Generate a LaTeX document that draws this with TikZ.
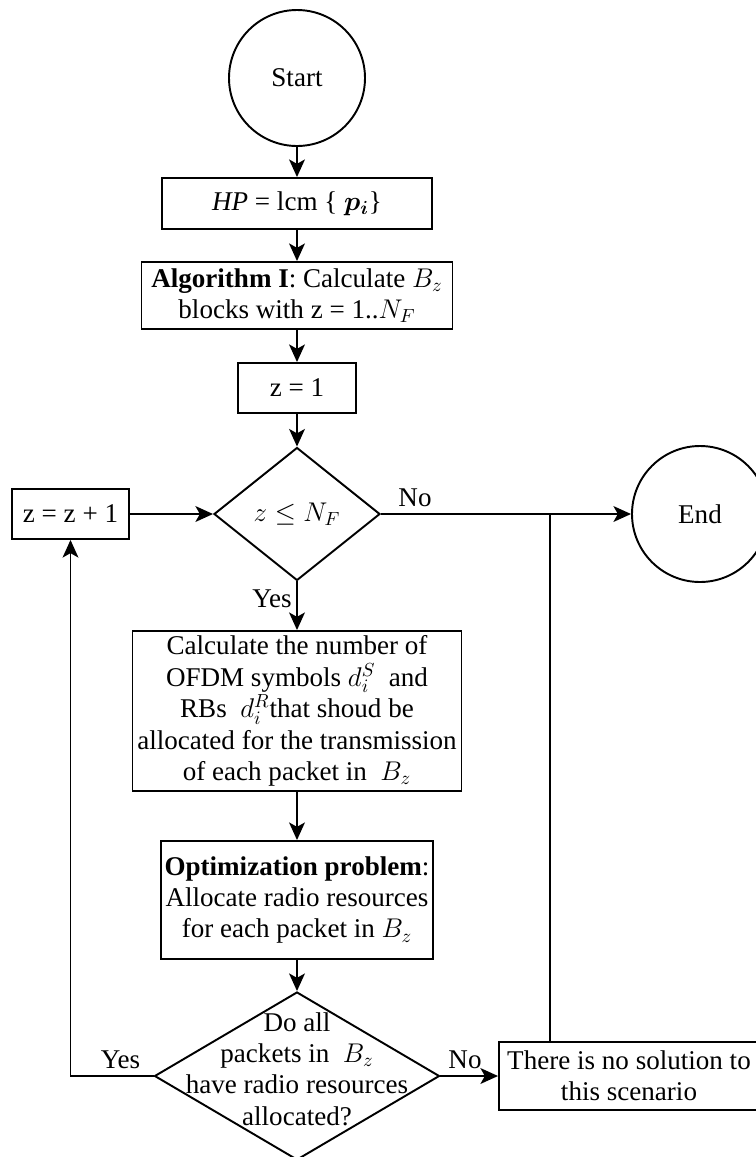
\RequirePackage{fix-cm}
\documentclass[tikz,border=0pt]{standalone}
\usepackage{bm}
\usepackage{fontspec}
\setmainfont{Liberation Serif}
\usetikzlibrary{shapes.geometric,arrows.meta}

\begin{document}
\begin{tikzpicture}[
            every node/.style={font=\fontsize{15.4}{17.9}\selectfont},
            box/.style={draw,line width=1.1pt,rectangle,align=center,inner sep=2pt},
            terminal/.style={draw,line width=1.1pt,circle,minimum size=2.72cm,inner sep=0pt},
            decision/.style={draw,line width=1.1pt,diamond,inner sep=0pt},
            arr/.style={line width=1.1pt,-{Stealth[length=10pt,width=9pt,inset=2.5pt]}},
            link/.style={line width=1.1pt}]
            \useasboundingbox (0,0) rectangle (15.12,-23.14);
            \node[terminal] (start) at (5.94,-1.56) {Start};
            \node[box,minimum width=5.4cm,minimum height=1.02cm] (hp) at (5.94,-4.07) {\textit{HP} = lcm \{ $\bm{p_i}$\}};
            \node[box,minimum width=6.22cm,minimum height=1.34cm] (alg) at (5.94,-5.91) {\textbf{Algorithm I}: Calculate $B_z$\\ blocks with z = 1..$N_F$};
            \node[box,minimum width=2.36cm,minimum height=1cm] (zinit) at (5.94,-7.76) {z = 1};
            \node[decision,minimum width=3.32cm,minimum height=2.66cm] (cond) at (5.94,-10.28) {$z \leq N_F$};
            \node[box,minimum width=2.34cm,minimum height=1cm] (zinc) at (1.41,-10.28) {z = z + 1};
            \node[terminal] (finish) at (14.0,-10.28) {End};
            \node[box,minimum width=6.58cm,minimum height=3.2cm] (calc) at (5.94,-14.22) {Calculate the number of\\ OFDM symbols $d_i^S$\ \ and\\ RBs\ \ $d_i^R$that shoud be\\ allocated for the transmission\\ of each packet in\ \ $B_z$};
            \node[box,minimum width=5.38cm,minimum height=2.36cm] (opt) at (5.94,-18.0) {\textbf{Optimization problem}:\\ Allocate radio resources\\ for each packet in $B_z$};
            \node[decision,minimum width=5.7cm,minimum height=3.36cm] (check) at (5.94,-21.52) {};
            \node[align=center] (checktxt) at (5.94,-21.38) {Do all\\ packets in\ \ $B_z$\\ have radio resources\\ allocated?};
            \node[box,minimum width=5.2cm,minimum height=1.36cm] (nosol) at (12.58,-21.52) {There is no solution to\\ this scenario};
            \coordinate (join) at (11.0,-10.28);
            \node (nolbl) at (8.3,-9.96) {No};
            \node (yeslbl) at (5.44,-11.98) {Yes};
            \node (yeslbl2) at (2.41,-21.2) {Yes};
            \node (nolbl2) at (9.3,-21.2) {No};
            \draw[arr] (start) -- (hp);
            \draw[arr] (hp) -- (alg);
            \draw[arr] (alg) -- (zinit);
            \draw[arr] (zinit) -- (cond);
            \draw[arr] (zinc) -- (cond);
            \draw[arr] (cond) -- (finish);
            \draw[arr] (cond) -- (calc);
            \draw[arr] (calc) -- (opt);
            \draw[arr] (opt) -- (check);
            \draw[arr] (check.west) -| (zinc.south);
            \draw[arr] (check.east) -- (nosol.west);
            \draw[link] (nosol.north -| join) -- (join);
        \end{tikzpicture}
\end{document}
